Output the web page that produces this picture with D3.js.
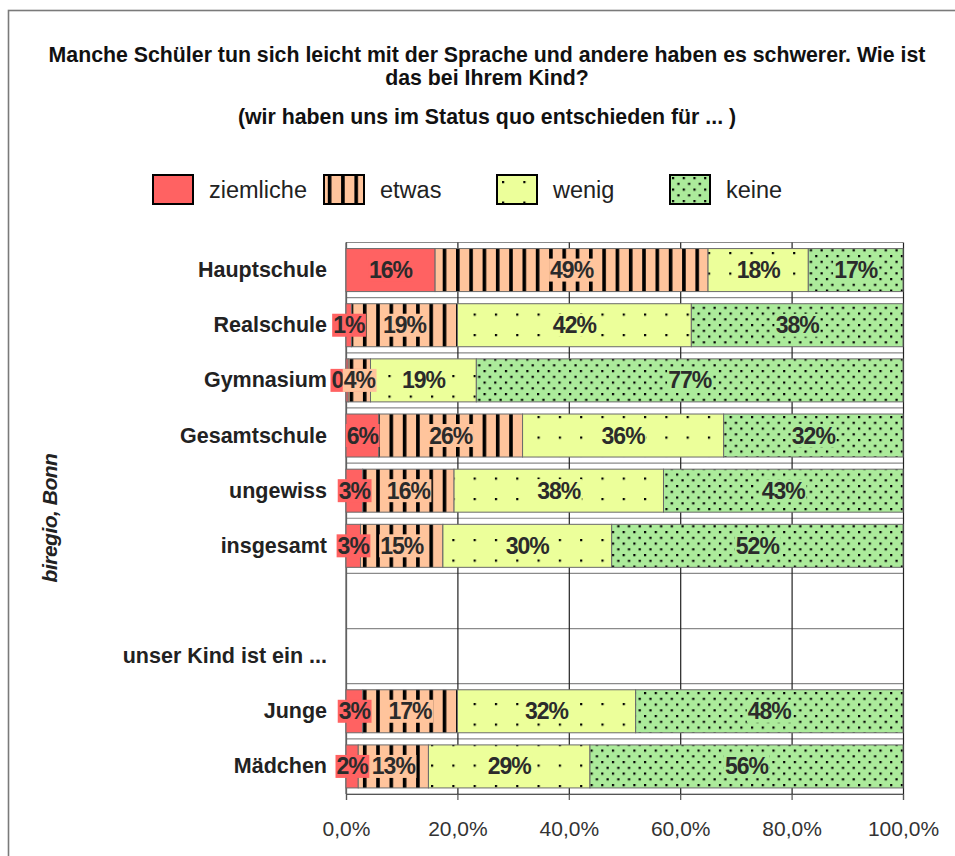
<!DOCTYPE html>
<html>
<head>
<meta charset="utf-8">
<script src="https://cdn.jsdelivr.net/npm/d3@7"></script>
<style>
  body { margin: 0; background: #fff; }
  svg { display: block; font-family: "Liberation Sans", Arial, sans-serif; }
</style>
</head>
<body>
<svg id="chart" width="955" height="856"></svg>
<script>
// categories (empty rows are spacers in the original)
const categories = ["Hauptschule", "Realschule", "Gymnasium", "Gesamtschule", "ungewiss",
  "insgesamt", "", "unser Kind ist ein ...", "Junge", "Mädchen"];
const seriesNames = ["ziemliche", "etwas", "wenig", "keine"];

// percent per series
const ziemliche = [16, 1, 0.4, 5.9, 3, 2.6, null, null, 3, 2.2];
const etwas     = [49, 19, 4, 25.8, 16.4, 14.8, null, null, 17, 12.6];
const wenig     = [18, 42, 19, 36.1, 37.6, 30.3, null, null, 32, 29.0];
const keine     = [17, 38, 76.6, 32.2, 43, 52.3, null, null, 48, 56.2];

const xTicks = [0, 20, 40, 60, 80, 100];

const titleLines = ["Manche Schüler tun sich leicht mit der Sprache und andere haben es schwerer. Wie ist",
  "das bei Ihrem Kind?"];
const subtitle = "(wir haben uns im Status quo entschieden für ... )";
const yTitle = "biregio, Bonn";

const colors = {ziemliche: "#ff6262", etwas: "#ffc49c", wenig: "#ecff9a", keine: "#aceb9b"};

const svg = d3.select("#chart");

// patterns
const defs = svg.append("defs");

const pEtwas = defs.append("pattern").attr("id", "p-etwas")
  .attr("patternUnits", "userSpaceOnUse").attr("x", 3.8).attr("y", 0)
  .attr("width", 13.3).attr("height", 10);
pEtwas.append("rect").attr("width", 13.3).attr("height", 10).attr("fill", colors.etwas);
pEtwas.append("rect").attr("width", 3.6).attr("height", 10).attr("fill", "#000");

const pWenig = defs.append("pattern").attr("id", "p-wenig")
  .attr("patternUnits", "userSpaceOnUse").attr("x", 5).attr("y", 6)
  .attr("width", 21.3).attr("height", 20.5);
pWenig.append("rect").attr("width", 21.3).attr("height", 20.5).attr("fill", colors.wenig);
pWenig.append("rect").attr("x", 0).attr("y", 0).attr("width", 2.2).attr("height", 2.2).attr("fill", "#000");

const pKeine = defs.append("pattern").attr("id", "p-keine")
  .attr("patternUnits", "userSpaceOnUse").attr("x", 2).attr("y", 2)
  .attr("width", 10.7).attr("height", 11.5);
pKeine.append("rect").attr("width", 10.7).attr("height", 11.5).attr("fill", colors.keine);
pKeine.append("rect").attr("x", 0).attr("y", 0).attr("width", 2.2).attr("height", 2.2).attr("fill", "#000");
pKeine.append("rect").attr("x", 5.35).attr("y", 5.75).attr("width", 2.2).attr("height", 2.2).attr("fill", "#000");

const fills = {ziemliche: colors.ziemliche, etwas: "url(#p-etwas)", wenig: "url(#p-wenig)", keine: "url(#p-keine)"};

// outer frame (continues past the right/bottom edge)
svg.append("rect")
  .attr("x", 8.5).attr("y", 10.5).attr("width", 980).attr("height", 900)
  .attr("fill", "none").attr("stroke", "#7a7a7a").attr("stroke-width", 1.6);

// titles
svg.append("g").selectAll("text").data(titleLines).join("text")
  .attr("x", 487).attr("y", (d, i) => 62 + i * 23)
  .attr("text-anchor", "middle").attr("font-size", 21.3).attr("font-weight", "bold").attr("fill", "#111")
  .text(d => d);
svg.append("text").attr("x", 487).attr("y", 124)
  .attr("text-anchor", "middle").attr("font-size", 21.3).attr("font-weight", "bold").attr("fill", "#111")
  .text(subtitle);

// legend
const legendX = [153, 324, 497, 670];
const legend = svg.append("g").selectAll("g").data(seriesNames).join("g")
  .attr("transform", (d, i) => `translate(${legendX[i]},175)`);
legend.append("rect").attr("width", 40).attr("height", 29)
  .attr("fill", d => fills[d]).attr("stroke", "#000").attr("stroke-width", 2);
legend.append("text").attr("x", 56).attr("y", 23)
  .attr("font-size", 23.5).attr("fill", "#222").text(d => d);

// scales
const x = d3.scaleLinear().domain([0, 100]).range([346, 903]);
const y = d3.scaleBand().domain(d3.range(categories.length))
  .range([242.5, 794]).paddingInner(0.22).paddingOuter(0.11);

const rows = categories.map((c, i) => ({
  idx: i, ziemliche: ziemliche[i] || 0, etwas: etwas[i] || 0, wenig: wenig[i] || 0, keine: keine[i] || 0,
  empty: ziemliche[i] == null
}));
const stacked = d3.stack().keys(seriesNames)(rows);

// horizontal separators between categories
const plotTop = y.range()[0], plotBottom = y.range()[1];
svg.append("g").selectAll("line").data(d3.range(categories.length + 1)).join("line")
  .attr("x1", x(0)).attr("x2", x(100))
  .attr("y1", d => plotTop + d * y.step()).attr("y2", d => plotTop + d * y.step())
  .attr("stroke", "#8a8a8a").attr("stroke-width", 1.2);

// vertical gridlines
svg.append("g")
  .attr("transform", `translate(0,${plotBottom})`)
  .call(d3.axisBottom(x).tickValues(xTicks).tickSize(-(plotBottom - plotTop)).tickFormat(""))
  .call(g => g.select(".domain").remove())
  .call(g => g.selectAll(".tick line").attr("stroke", "#222").attr("stroke-width", 1.2));

// left axis line
svg.append("line").attr("x1", x(0)).attr("x2", x(0)).attr("y1", plotTop).attr("y2", plotBottom)
  .attr("stroke", "#777").attr("stroke-width", 1.5);

// bars
svg.append("g").selectAll("g").data(stacked).join("g")
  .attr("fill", d => fills[d.key])
  .selectAll("rect").data(d => d.filter(p => !p.data.empty)).join("rect")
  .attr("x", d => x(d[0])).attr("width", d => x(d[1]) - x(d[0]))
  .attr("y", d => y(d.data.idx)).attr("height", y.bandwidth())
  .attr("stroke", "#6a6a6a").attr("stroke-width", 1);

// bottom axis with ticks + labels
svg.append("g")
  .attr("transform", `translate(0,${plotBottom})`)
  .call(d3.axisBottom(x).tickValues(xTicks).tickSize(6).tickPadding(21)
    .tickFormat(d => d.toFixed(1).replace(".", ",") + "%"))
  .call(g => g.select(".domain").attr("stroke", "#555").attr("stroke-width", 1.2))
  .call(g => g.selectAll(".tick line").attr("stroke", "#555").attr("stroke-width", 1.2))
  .call(g => g.selectAll(".tick text").attr("font-size", 21).attr("fill", "#333")
    .attr("font-family", "Liberation Sans, Arial, sans-serif"));

// data labels with background boxes
const labelLayer = svg.append("g");
stacked.forEach(s => {
  s.filter(p => !p.data.empty).forEach(p => {
    const cx = x((p[0] + p[1]) / 2);
    const cy = y(p.data.idx) + y.bandwidth() / 2;
    const g = labelLayer.append("g");
    const bg = g.append("rect").attr("fill", colors[s.key]);
    const t = g.append("text").attr("x", cx).attr("y", cy)
      .attr("text-anchor", "middle").attr("dominant-baseline", "central")
      .attr("font-size", 23).attr("font-weight", "bold").attr("letter-spacing", -1)
      .attr("fill", "#2b2b2b")
      .text(Math.round(p.data[s.key]) + "%");
    const bb = t.node().getBBox();
    bg.attr("x", bb.x - 1).attr("y", cy - 11.5).attr("width", bb.width + 2).attr("height", 23);
  });
});

// category labels
svg.append("g").selectAll("text").data(categories).join("text")
  .attr("x", 327).attr("y", (d, i) => y(i) + y.bandwidth() / 2)
  .attr("text-anchor", "end").attr("dominant-baseline", "central")
  .attr("font-size", 21.5).attr("font-weight", "bold").attr("fill", "#222")
  .text(d => d);

// vertical axis title
svg.append("text")
  .attr("transform", "translate(49,518) rotate(-90)")
  .attr("text-anchor", "middle").attr("dominant-baseline", "central")
  .attr("font-size", 21).attr("font-weight", "bold").attr("font-style", "italic")
  .attr("letter-spacing", -0.5).attr("fill", "#222")
  .text(yTitle);
</script>
</body>
</html>
